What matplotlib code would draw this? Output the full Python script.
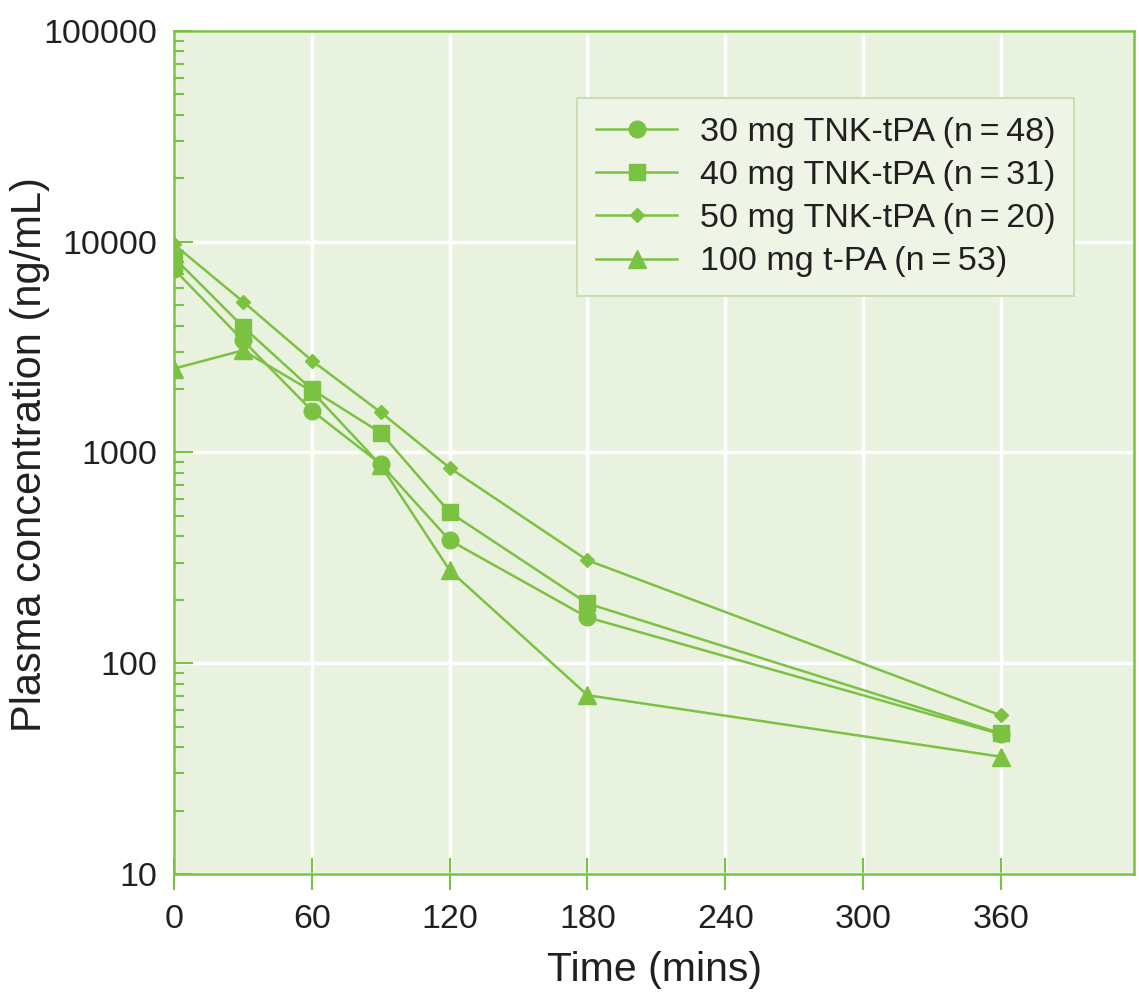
import numpy as np
import matplotlib.pyplot as plt
from matplotlib.ticker import LogLocator, FixedLocator, NullFormatter

plt.rcParams['font.family'] = ['Liberation Sans', 'DejaVu Sans']

# sampling times (min) and plasma concentrations (ng/mL)
times = [0, 30, 60, 90, 120, 180, 360]
tnk_30 = [7400, 3400, 1580, 880, 383, 165, 46]
tnk_40 = [8400, 3950, 1990, 1240, 520, 192, 46.5]
tnk_50 = [9700, 5200, 2730, 1550, 845, 308, 56.5]
tpa_100 = [2500, 3050, 1950, 870, 276, 70.5, 36]

labels = ['30 mg TNK-tPA (n\u2009=\u200948)',
          '40 mg TNK-tPA (n\u2009=\u200931)',
          '50 mg TNK-tPA (n\u2009=\u200920)',
          '100 mg t-PA (n\u2009=\u200953)']

green = '#7cc242'
bg = '#e9f2df'
txt = '#231f20'

fig = plt.figure(figsize=(11.39, 9.92), dpi=100)
ax = fig.add_axes([0.1528, 0.119, 0.8429, 0.8498])
ax.set_facecolor(bg)

series = [(tnk_30, 'o', 12), (tnk_40, 's', 12), (tnk_50, 'D', 7.5), (tpa_100, '^', 12.5)]
for (vals, mk, ms), lab in zip(series, labels):
    ax.plot(times, vals, color=green, lw=1.8, marker=mk, ms=ms,
            mec=green, mfc=green, label=lab, zorder=3)

ax.set_yscale('log')
ax.set_ylim(10, 100000)
ax.set_xlim(0, 418)

ax.xaxis.set_major_locator(FixedLocator([0, 60, 120, 180, 240, 300, 360]))
ax.yaxis.set_minor_locator(LogLocator(base=10, subs=np.arange(2, 10)))
ax.yaxis.set_minor_formatter(NullFormatter())
ax.set_yticks([10, 100, 1000, 10000, 100000])
ax.set_yticklabels(['10', '100', '1000', '10000', '100000'])

ax.grid(True, which='major', color='white', lw=2.5, zorder=0)
ax.set_axisbelow(True)

for s in ax.spines.values():
    s.set_color(green)
    s.set_linewidth(1.8)

ax.tick_params(axis='x', direction='inout', length=23, width=1.5, color=green,
               labelsize=24.5, labelcolor=txt, pad=10)
ax.tick_params(axis='y', which='major', direction='in', length=14, width=1.5,
               color=green, labelsize=24.5, labelcolor=txt, pad=12)
ax.tick_params(axis='y', which='minor', direction='in', length=7, width=1.5,
               color=green)

ax.set_xlabel('Time (mins)', fontsize=29.5, color=txt, labelpad=12)
fig.text(30 / 1139, 0.5 + 0.5 * (1 - 2 * 455 / 992), 'Plasma concentration (ng/mL)',
         rotation=90, ha='center', va='center', fontsize=30, color=txt)

leg = ax.legend(loc='upper left', bbox_to_anchor=(0.4198, 0.9205), fontsize=24.5,
                frameon=True, fancybox=False, handlelength=2.4,
                borderpad=0.55, labelspacing=0.36, handletextpad=0.65,
                borderaxespad=0)
leg.get_frame().set_facecolor('#eef5e7')
leg.get_frame().set_edgecolor('#c9deb2')
leg.get_frame().set_linewidth(1.5)
leg.get_frame().set_alpha(1)
for t in leg.get_texts():
    t.set_color(txt)

fig.savefig('out.png', dpi=100, facecolor='white')
